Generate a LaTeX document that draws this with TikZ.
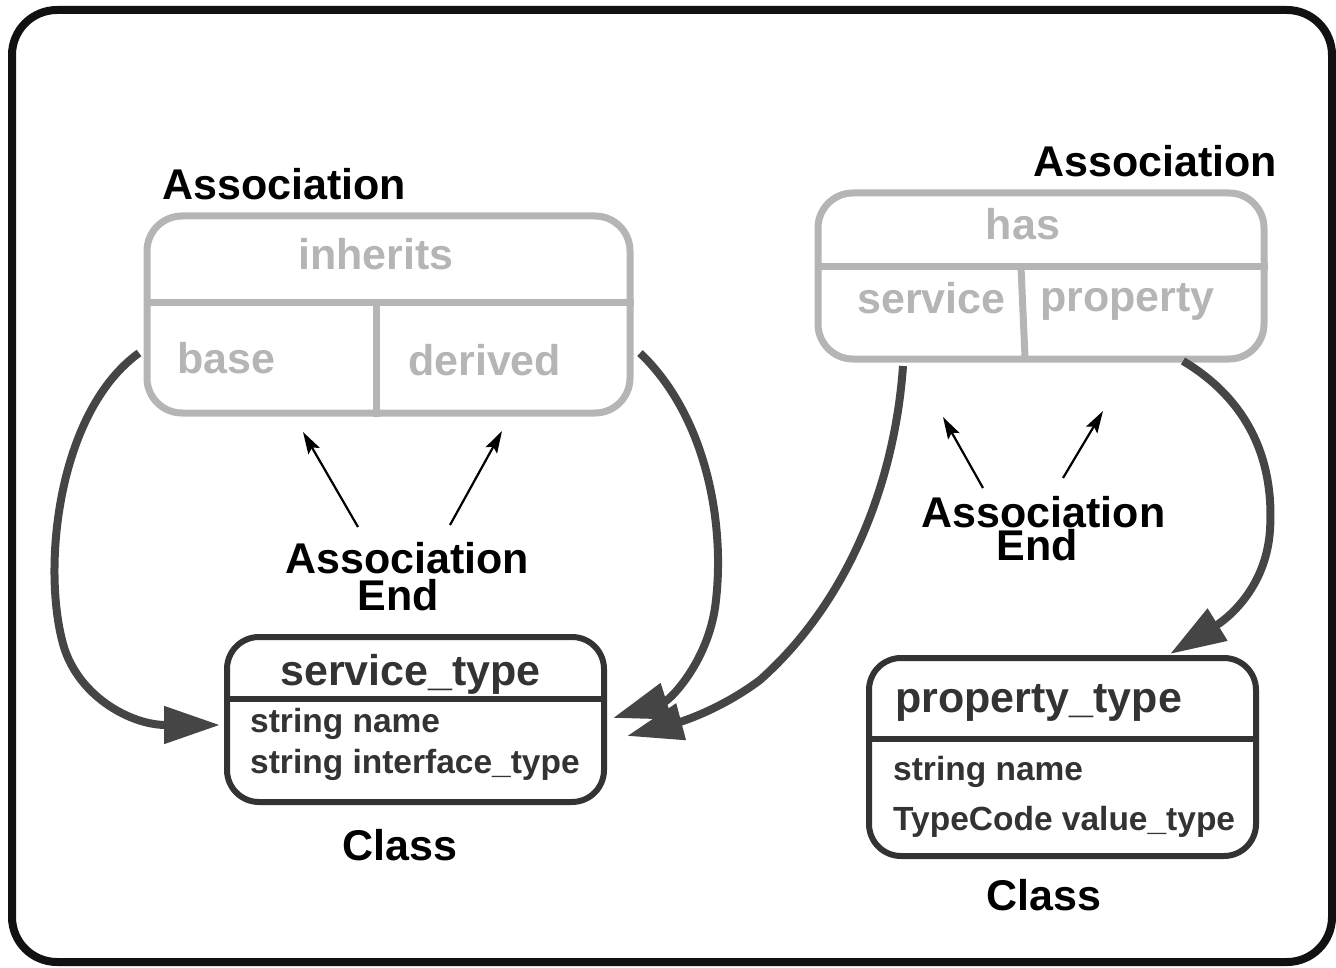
\documentclass[tikz,border=0pt]{standalone}
\usepackage{fontspec}
\setmainfont{Liberation Sans}
\usetikzlibrary{arrows.meta}
\definecolor{boxgray}{HTML}{B5B5B5}
\definecolor{classdark}{HTML}{333333}
\definecolor{flowgray}{HTML}{454545}
\definecolor{frameblack}{HTML}{111111}
\tikzset{
  big/.style={font=\fontsize{43}{43}\selectfont\bfseries, inner sep=0pt},
  small/.style={font=\fontsize{33.5}{33.5}\selectfont\bfseries, inner sep=0pt},
  assocbox/.style={draw=boxgray, line width=7pt, rounded corners=35pt, inner sep=0pt},
  classbox/.style={draw=classdark, line width=6pt, rounded corners=32pt, inner sep=0pt},
  gdiv/.style={draw=boxgray, line width=7pt},
  cdiv/.style={draw=classdark, line width=6pt},
  flow/.style={draw=flowgray, line width=8pt, -{Triangle[length=56pt,width=36pt]}},
  pointer/.style={draw=black, line width=2.2pt, -{Stealth[length=22pt,width=13pt,inset=4pt]}}
}
\begin{document}
\begin{tikzpicture}[x=1pt,y=-1pt]
\useasboundingbox (0,0) rectangle (1336,968);
% outer frame
\draw[frameblack, line width=8pt, rounded corners=45pt] (12,10) rectangle (1332,962);

% association "inherits"
\node[assocbox, minimum width=483pt, minimum height=197pt] (inh) at (388.5,314.5) {};
\draw[gdiv] (inh.west |- 0,303) -- (inh.east |- 0,303);
\draw[gdiv] (376,303) -- (inh.south -| 376,0);
\node[big, anchor=base west] (inhlabel) at (162,200) {Association};
\node[big, text=boxgray, anchor=base] (inhname) at (376,270) {inherits};
\node[big, text=boxgray, anchor=base west] (inhbase) at (177,373) {base};
\node[big, text=boxgray, anchor=base west] (inhder) at (408,375) {derived};

% association "has"
\node[assocbox, minimum width=446pt, minimum height=166pt] (has) at (1041,276) {};
\draw[gdiv] (has.west |- 0,267) -- (has.east |- 0,267);
\draw[gdiv] (1021,267) -- (1025,357);
\node[big, anchor=base west] (haslabel) at (1033,177) {Association};
\node[big, text=boxgray, anchor=base] (hasname) at (1023,240) {has};
\node[big, text=boxgray, anchor=base west] (hasserv) at (857,313) {service};
\node[big, text=boxgray, anchor=base west] (hasprop) at (1040,312) {property};

% class service_type
\node[classbox, minimum width=377pt, minimum height=165pt] (svc) at (415.5,719.5) {};
\draw[cdiv] (svc.west |- 0,699) -- (svc.east |- 0,699);
\node[big, text=classdark, anchor=base west] (svcname) at (280,685) {service\_type};
\node[small, text=classdark, anchor=base west] (svca1) at (250,732) {string name};
\node[small, text=classdark, anchor=base west] (svca2) at (250,773) {string interface\_type};
\node[big, anchor=base] (svclabel) at (400,860) {Class};

% class property_type
\node[classbox, minimum width=387pt, minimum height=198pt] (prop) at (1062.5,757) {};
\draw[cdiv] (prop.west |- 0,739) -- (prop.east |- 0,739);
\node[big, text=classdark, anchor=base west] (propname) at (895,712) {property\_type};
\node[small, text=classdark, anchor=base west] (propa1) at (893,780) {string name};
\node[small, text=classdark, anchor=base west] (propa2) at (893,830) {TypeCode value\_type};
\node[big, anchor=base] (proplabel) at (1044,910) {Class};

% association end labels (two tightly set lines each)
\node[big, font=\fontsize{43}{37}\selectfont\bfseries, align=center, anchor=north]
  (endL) at (407,542) {Association\\End\hspace*{18pt}};
\node[big, font=\fontsize{43}{33}\selectfont\bfseries, align=center, anchor=north]
  (endR) at (1043.5,496) {Association\\End\hspace*{13pt}};

% pointers from the end labels to the association ends
\coordinate (p1s) at (358,527); \coordinate (p1e) at (303,432);
\coordinate (p2s) at (450,525); \coordinate (p2e) at (502,431);
\coordinate (p3s) at (983,488); \coordinate (p3e) at (943,417);
\coordinate (p4s) at (1063,478); \coordinate (p4e) at (1103,411);
\draw[pointer] (p1s) -- (p1e);
\draw[pointer] (p2s) -- (p2e);
\draw[pointer] (p3s) -- (p3e);
\draw[pointer] (p4s) -- (p4e);

% association ends linked to their classes
\coordinate (f1s) at (139,353); \coordinate (f1e) at (220,725);
\coordinate (f2s) at (640,353); \coordinate (f2e) at (613,718);
\coordinate (f3s) at (903,366); \coordinate (f3e) at (627,736);
\coordinate (f4s) at (1183,361); \coordinate (f4e) at (1170,654);
\draw[flow] (f1s) .. controls (60,410) and (42,560) .. (62,640)
               .. controls (75,695) and (130,725) .. (f1e);
\draw[flow] (f2s) .. controls (705,415) and (725,520) .. (716,600)
               .. controls (710,660) and (670,700) .. (f2e);
\draw[flow] (f3s) .. controls (895,480) and (850,600) .. (760,680)
               .. controls (720,710) and (680,722) .. (f3e);
\draw[flow] (f4s) .. controls (1240,395) and (1275,450) .. (1270,530)
               .. controls (1266,590) and (1225,620) .. (f4e);
\end{tikzpicture}
\end{document}
